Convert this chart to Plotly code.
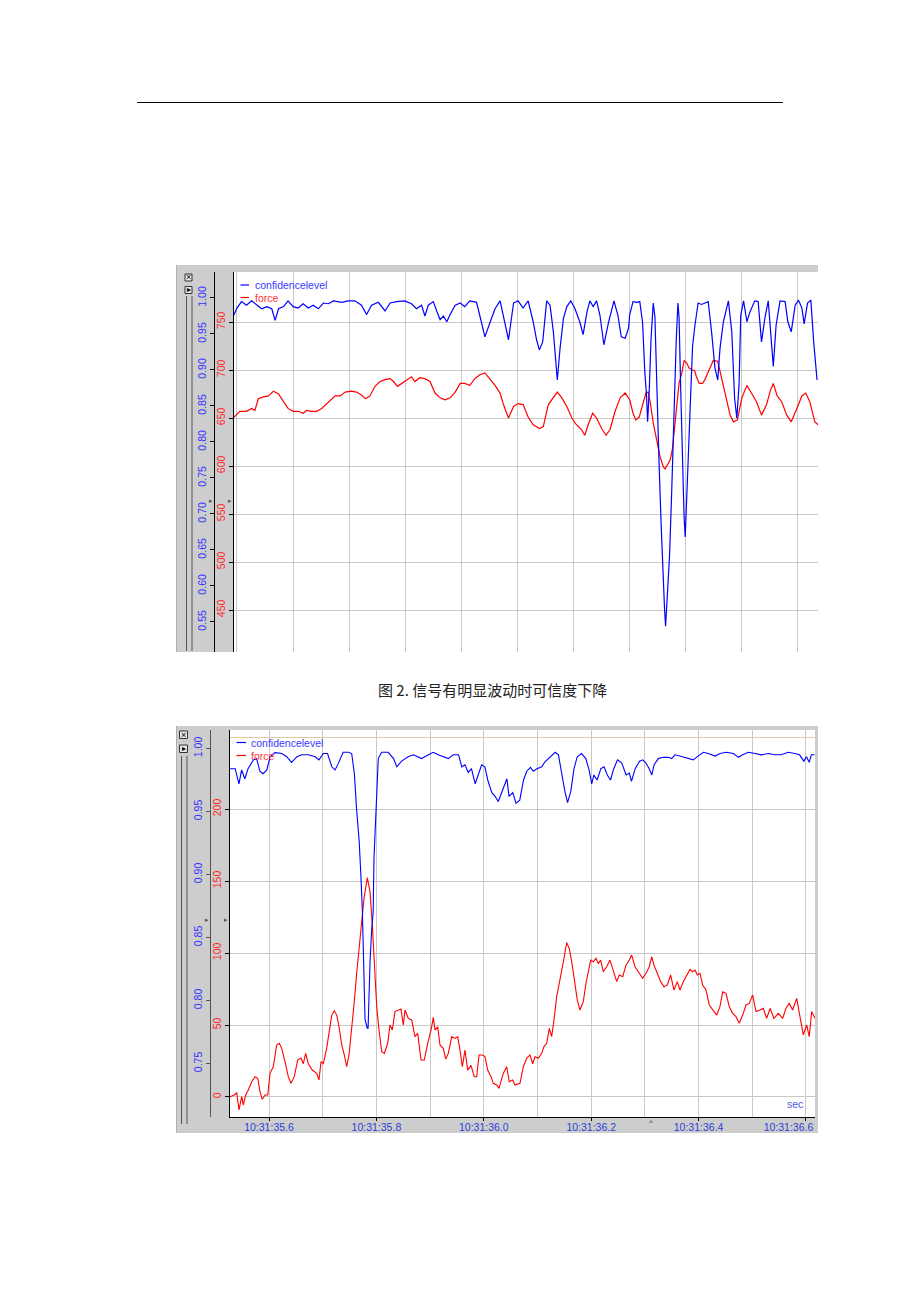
import plotly.graph_objects as go

# ---------------- data ----------------
# Chart 1 (upper screenshot): x in grid units (one vertical grid line per unit)
c1_conf_x = [-0.07, 0.00, 0.08, 0.17, 0.26, 0.35, 0.44, 0.53, 0.62, 0.68, 0.74, 0.83, 0.91, 1.00, 1.09, 1.18,
             1.27, 1.36, 1.45, 1.54, 1.63, 1.72, 1.87, 1.98, 2.10, 2.22, 2.31, 2.40, 2.52, 2.64, 2.73, 2.85,
             2.99, 3.11, 3.20, 3.29, 3.35, 3.41, 3.50, 3.56, 3.62, 3.68, 3.74, 3.80, 3.89, 3.98, 4.06, 4.15,
             4.27, 4.33, 4.42, 4.51, 4.60, 4.69, 4.75, 4.84, 4.93, 5.01, 5.10, 5.19, 5.28, 5.34, 5.39, 5.45,
             5.52, 5.58, 5.64, 5.71, 5.76, 5.82, 5.88, 5.95, 6.02, 6.11, 6.17, 6.24, 6.29, 6.35, 6.41, 6.47,
             6.54, 6.62, 6.72, 6.79, 6.85, 6.92, 6.98, 7.00, 7.06, 7.13, 7.18, 7.23, 7.27, 7.30, 7.32, 7.35,
             7.38, 7.42, 7.45, 7.48, 7.52, 7.56, 7.59, 7.62, 7.64, 7.67, 7.71, 7.75, 7.79, 7.83, 7.86, 7.88,
             7.91, 7.94, 7.97, 7.99, 8.02, 8.05, 8.09, 8.12, 8.16, 8.19, 8.22, 8.28, 8.34, 8.40, 8.46, 8.52,
             8.57, 8.61, 8.67, 8.76, 8.82, 8.87, 8.91, 8.95, 8.98, 9.03, 9.09, 9.14, 9.23, 9.29, 9.35, 9.41,
             9.47, 9.51, 9.56, 9.61, 9.68, 9.77, 9.82, 9.88, 9.95, 10.01, 10.07, 10.11, 10.17, 10.23, 10.28, 10.34]
c1_conf = [0.974, 0.986, 0.995, 0.990, 0.996, 0.990, 0.985, 0.988, 0.985, 0.969, 0.985, 0.988, 0.996, 0.988, 0.986, 0.992,
           0.986, 0.990, 0.985, 0.993, 0.992, 0.996, 0.994, 0.996, 0.996, 0.990, 0.977, 0.990, 0.994, 0.982, 0.993, 0.995,
           0.996, 0.992, 0.985, 0.990, 0.975, 0.990, 0.995, 0.982, 0.970, 0.975, 0.967, 0.977, 0.990, 0.993, 0.988, 0.996,
           0.994, 0.975, 0.946, 0.966, 0.985, 0.996, 0.976, 0.942, 0.993, 0.996, 0.986, 0.996, 0.967, 0.942, 0.928, 0.939,
           0.996, 0.990, 0.953, 0.886, 0.931, 0.972, 0.988, 0.996, 0.986, 0.967, 0.949, 0.981, 0.996, 0.988, 0.996, 0.976,
           0.935, 0.965, 0.996, 0.976, 0.946, 0.944, 0.958, 0.977, 0.995, 0.994, 0.995, 0.966, 0.897, 0.865, 0.828, 0.874,
           0.942, 0.993, 0.974, 0.872, 0.780, 0.687, 0.617, 0.571, 0.544, 0.581, 0.641, 0.733, 0.849, 0.942, 0.993, 0.974,
           0.872, 0.780, 0.696, 0.668, 0.733, 0.803, 0.872, 0.932, 0.960, 0.974, 0.993, 0.991, 0.993, 0.995, 0.953, 0.903,
           0.886, 0.930, 0.967, 0.996, 0.953, 0.861, 0.833, 0.880, 0.976, 0.996, 0.967, 0.980, 0.996, 0.995, 0.939, 0.972,
           0.996, 0.953, 0.905, 0.962, 0.996, 0.995, 0.967, 0.953, 0.990, 0.997, 0.986, 0.964, 0.993, 0.997, 0.939, 0.886]

c1_force_x = [-0.07, 0.05, 0.17, 0.26, 0.32, 0.38, 0.47, 0.56, 0.65, 0.74, 0.83, 0.91, 1.00, 1.09, 1.18, 1.24,
              1.33, 1.42, 1.51, 1.60, 1.69, 1.75, 1.84, 1.93, 2.04, 2.13, 2.22, 2.29, 2.37, 2.46, 2.55, 2.64,
              2.73, 2.79, 2.86, 2.93, 3.02, 3.11, 3.17, 3.26, 3.35, 3.44, 3.53, 3.62, 3.71, 3.80, 3.89, 3.98,
              4.06, 4.15, 4.24, 4.33, 4.42, 4.51, 4.60, 4.69, 4.75, 4.84, 4.93, 5.01, 5.10, 5.19, 5.28, 5.39,
              5.46, 5.55, 5.64, 5.71, 5.79, 5.88, 5.97, 6.05, 6.14, 6.20, 6.26, 6.34, 6.41, 6.50, 6.58, 6.65,
              6.74, 6.83, 6.92, 7.00, 7.06, 7.11, 7.17, 7.23, 7.29, 7.33, 7.37, 7.42, 7.48, 7.54, 7.60, 7.63,
              7.67, 7.72, 7.76, 7.80, 7.84, 7.88, 7.93, 7.97, 8.02, 8.06, 8.12, 8.16, 8.19, 8.24, 8.30, 8.34,
              8.40, 8.49, 8.57, 8.64, 8.72, 8.79, 8.85, 8.92, 9.00, 9.09, 9.17, 9.26, 9.35, 9.44, 9.51, 9.56,
              9.63, 9.71, 9.80, 9.88, 9.98, 10.07, 10.14, 10.21, 10.30, 10.36]
c1_force = [650, 657, 657, 660, 658, 670, 672, 673, 678, 675, 667, 660, 657, 657, 655, 658,
            657, 657, 660, 665, 669, 673, 673, 677, 678, 677, 674, 670, 673, 683, 688, 690,
            691, 688, 683, 686, 690, 693, 688, 692, 691, 688, 676, 671, 669, 671, 677, 686,
            686, 684, 691, 695, 697, 691, 684, 676, 664, 650, 662, 665, 664, 651, 643, 639,
            641, 664, 672, 677, 671, 662, 650, 643, 638, 632, 643, 655, 650, 639, 632, 638,
            657, 671, 676, 669, 655, 648, 651, 664, 676, 677, 665, 645, 627, 610, 599, 597,
            601, 606, 617, 638, 665, 686, 697, 710, 707, 702, 700, 699, 693, 686, 686, 690,
            698, 710, 709, 691, 671, 653, 646, 648, 671, 684, 676, 667, 653, 664, 679, 686,
            673, 667, 653, 646, 660, 673, 676, 667, 646, 643]

# Chart 2 (lower screenshot): x = seconds within 10:31
c2_conf_t = [35.527, 35.537, 35.544, 35.549, 35.555, 35.561, 35.571, 35.577, 35.583, 35.589, 35.596, 35.602,
             35.611, 35.624, 35.633, 35.642, 35.652, 35.661, 35.673, 35.686, 35.693, 35.701, 35.709, 35.717,
             35.723, 35.729, 35.738, 35.748, 35.754, 35.759, 35.763, 35.768, 35.771, 35.7738, 35.7788, 35.7830,
             35.7845, 35.7860, 35.7881, 35.7912, 35.7940, 35.7955, 35.7993, 35.8035, 35.8099, 35.822, 35.832,
             35.838, 35.847, 35.859, 35.869, 35.878, 35.884, 35.897, 35.906, 35.915, 35.925, 35.934, 35.943,
             35.953, 35.959, 35.965, 35.971, 35.977, 35.984, 35.990, 35.996, 36.002, 36.008, 36.015, 36.021,
             36.027, 36.036, 36.043, 36.047, 36.054, 36.060, 36.067, 36.074, 36.080, 36.087, 36.092, 36.099,
             36.108, 36.114, 36.123, 36.133, 36.139, 36.145, 36.151, 36.156, 36.162, 36.168, 36.174, 36.182,
             36.190, 36.196, 36.201, 36.205, 36.211, 36.218, 36.224, 36.230, 36.236, 36.242, 36.249, 36.257,
             36.265, 36.271, 36.275, 36.282, 36.290, 36.296, 36.302, 36.308, 36.313, 36.317, 36.325, 36.334,
             36.344, 36.350, 36.356, 36.365, 36.375, 36.384, 36.390, 36.399, 36.409, 36.418, 36.431, 36.440,
             36.452, 36.465, 36.474, 36.482, 36.493, 36.505, 36.517, 36.530, 36.542, 36.554, 36.567, 36.579,
             36.588, 36.596, 36.601, 36.606, 36.610, 36.616]
c2_conf = [0.984, 0.984, 0.972, 0.983, 0.976, 0.984, 0.991, 0.992, 0.982, 0.980, 0.983, 0.9935,
           0.9967, 0.996, 0.9935, 0.989, 0.9935, 0.995, 0.995, 0.9935, 0.991, 0.996, 0.996, 0.9855,
           0.983, 0.988, 0.997, 0.997, 0.996, 0.980, 0.9525, 0.926, 0.900, 0.872, 0.785, 0.778,
           0.778, 0.803, 0.830, 0.856, 0.870, 0.913, 0.958, 0.992, 0.997, 0.997, 0.992,
           0.9855, 0.990, 0.9935, 0.995, 0.9935, 0.992, 0.995, 0.997, 0.995, 0.9935, 0.992, 0.995,
           0.995, 0.9855, 0.987, 0.981, 0.984, 0.972, 0.979, 0.987, 0.9855, 0.974, 0.965, 0.962,
           0.958, 0.968, 0.976, 0.962, 0.965, 0.9565, 0.959, 0.975, 0.982, 0.985, 0.982, 0.984,
           0.9855, 0.9895, 0.993, 0.997, 0.995, 0.980, 0.966, 0.957, 0.966, 0.984, 0.9935, 0.996,
           0.992, 0.983, 0.972, 0.979, 0.975, 0.984, 0.9855, 0.979, 0.975, 0.984, 0.991, 0.9885,
           0.979, 0.9805, 0.974, 0.984, 0.990, 0.991, 0.9885, 0.984, 0.979, 0.987, 0.992, 0.993,
           0.993, 0.992, 0.995, 0.994, 0.993, 0.992, 0.991, 0.994, 0.997, 0.996, 0.994, 0.996,
           0.997, 0.996, 0.993, 0.995, 0.997, 0.996, 0.995, 0.996, 0.995, 0.995, 0.997, 0.996,
           0.995, 0.990, 0.9935, 0.989, 0.995, 0.995]

c2_force_t = [35.5274, 35.5354, 35.5399, 35.5441, 35.5492, 35.5521, 35.5566, 35.5615, 35.5678, 35.5739, 35.5790,
              35.5832, 35.5875, 35.5926, 35.5976, 35.6019, 35.6080, 35.6143, 35.6192, 35.6236, 35.6298, 35.6359,
              35.6410, 35.6471, 35.6534, 35.6596, 35.6639, 35.6683, 35.6732, 35.6806, 35.6888, 35.6931, 35.6968,
              35.7011, 35.7074, 35.7117, 35.7168, 35.7216, 35.7261, 35.7304, 35.7354, 35.7402, 35.7447, 35.7490,
              35.7540, 35.7588, 35.7633, 35.7676, 35.7726, 35.7769, 35.7831, 35.7881, 35.7924, 35.7961, 35.8006,
              35.8048, 35.8099, 35.8147, 35.8210, 35.8253, 35.8296, 35.8346, 35.8408, 35.8458, 35.8501, 35.8533,
              35.8594, 35.8657, 35.8719, 35.8769, 35.8831, 35.8892, 35.8955, 35.9017, 35.9060, 35.9091, 35.9142,
              35.9184, 35.9246, 35.9291, 35.9339, 35.9402, 35.9464, 35.9514, 35.9557, 35.9600, 35.9650, 35.9700,
              35.9762, 35.9823, 35.9868, 35.9911, 35.9972, 36.0022, 36.0073, 36.0134, 36.0177, 36.0240, 36.0283,
              36.0363, 36.0426, 36.0475, 36.0538, 36.0581, 36.0674, 36.0736, 36.0799, 36.0860, 36.0911, 36.0953,
              36.1015, 36.1078, 36.1121, 36.1171, 36.1220, 36.1264, 36.1307, 36.1357, 36.1406, 36.1451, 36.1493,
              36.1544, 36.1592, 36.1637, 36.1680, 36.1741, 36.1791, 36.1853, 36.1903, 36.1946, 36.1991, 36.2039,
              36.2089, 36.2132, 36.2177, 36.2225, 36.2289, 36.2350, 36.2412, 36.2475, 36.2523, 36.2587, 36.2648,
              36.2710, 36.2754, 36.2816, 36.2896, 36.2959, 36.3020, 36.3082, 36.3127, 36.3169, 36.3231, 36.3294,
              36.3356, 36.3417, 36.3480, 36.3542, 36.3603, 36.3654, 36.3715, 36.3778, 36.3840, 36.3890, 36.3933,
              36.3976, 36.4026, 36.4076, 36.4138, 36.4199, 36.4274, 36.4337, 36.4398, 36.4449, 36.4510, 36.4572,
              36.4635, 36.4696, 36.4758, 36.4821, 36.4883, 36.4944, 36.5007, 36.5069, 36.5143, 36.5205, 36.5268,
              36.5330, 36.5404, 36.5484, 36.5566, 36.5628, 36.5689, 36.5752, 36.5827, 36.5888, 36.5950, 36.6013,
              36.6061, 36.6106, 36.6168]
c2_force = [0.2, 1.4, 3.0, -9.0, 0.2, -5.6, 1.4, 4.9, 10.6, 14.1, 13.0,
            3.7, -1.6, 1.4, 1.4, 16.4, 21.0, 36.1, 37.3, 33.8, 24.5, 14.1,
            9.5, 14.1, 25.7, 27.0, 23.1, 30.3, 23.1, 18.7, 16.4, 11.8, 24.5,
            23.1, 33.8, 44.2, 56.9, 59.9, 56.9, 48.8, 36.1, 29.2, 21.0, 29.2,
            46.5, 66.2, 85.9, 103.2, 119.4, 138.0, 152.3, 142.6, 119.4, 92.8, 62.7,
            46.5, 31.5, 30.3, 37.3, 50.0, 46.5, 59.3, 60.4, 61.1, 50.0, 60.4,
            54.6, 53.5, 41.9, 44.2, 25.7, 25.7, 37.3, 46.5, 55.3, 46.5, 48.8,
            36.1, 33.8, 26.3, 30.3, 41.9, 40.7, 41.9, 32.6, 21.0, 32.6, 18.7,
            22.0, 14.1, 14.1, 29.2, 29.2, 28.1, 18.7, 14.1, 9.5, 8.3, 6.0,
            16.4, 21.0, 10.6, 11.8, 8.3, 9.5, 21.0, 26.9, 29.2, 23.1, 27.9,
            26.9, 30.3, 35.0, 37.3, 47.7, 42.0, 53.5, 69.7, 79.0, 89.4, 96.3,
            107.2, 103.2, 94.0, 81.3, 67.4, 60.4, 66.2, 79.0, 85.9, 95.1, 93.9,
            96.3, 92.8, 95.1, 87.0, 90.5, 95.1, 88.2, 80.1, 84.7, 83.6, 91.6,
            95.1, 98.6, 90.5, 85.9, 82.4, 85.9, 90.5, 97.4, 91.6, 85.9, 80.1,
            76.6, 77.8, 84.7, 74.3, 80.1, 74.3, 80.1, 84.7, 88.6, 87.0, 88.2,
            84.7, 85.9, 77.8, 74.3, 63.9, 60.4, 56.9, 62.7, 73.1, 72.0, 62.7,
            58.1, 55.8, 51.2, 56.9, 63.9, 65.0, 70.8, 59.3, 60.4, 61.6, 54.6,
            61.6, 54.6, 58.1, 54.6, 61.6, 65.0, 60.4, 68.5, 54.6, 43.1, 50.0,
            41.9, 59.3, 54.6]

c1_force_ticks = [450, 500, 550, 600, 650, 700, 750]
c1_conf_ticks = [0.55, 0.60, 0.65, 0.70, 0.75, 0.80, 0.85, 0.90, 0.95, 1.00]
c2_force_ticks = [0, 50, 100, 150, 200]
c2_conf_ticks = [0.75, 0.80, 0.85, 0.90, 0.95, 1.00]
c2_time_ticks = [35.6, 35.8, 36.0, 36.2, 36.4, 36.6]
c2_time_text = ["10:31:35.6", "10:31:35.8", "10:31:36.0", "10:31:36.2", "10:31:36.4",
                "10:31:36.6" + "\u00a0" * 12]
c2_time_minor = [35.7, 35.9, 36.1, 36.3, 36.5]

caption = "图 2. 信号有明显波动时可信度下降"

# ---------------- layout helpers ----------------
W, H = 920, 1302
def fx(px):
    return px / W
def fy(py):
    return 1 - py / H

GRID = "#c8c8c8"
PANEL = "#cdcdcd"
BLUE = "#0000ff"
RED = "#ff0000"
BLUE_TXT = "#3333ff"
RED_TXT = "#ff2a2a"
FONT = "Liberation Sans, Arial, sans-serif"

fig = go.Figure()
fig.add_trace(go.Scatter(x=c1_force_x, y=c1_force, xaxis="x", yaxis="y", mode="lines",
                         line=dict(color=RED, width=1.2), name="force", showlegend=False))
fig.add_trace(go.Scatter(x=c1_conf_x, y=c1_conf, xaxis="x", yaxis="y2", mode="lines",
                         line=dict(color=BLUE, width=1.2), name="confidencelevel", showlegend=False))
fig.add_trace(go.Scatter(x=c2_force_t, y=c2_force, xaxis="x2", yaxis="y3", mode="lines",
                         line=dict(color=RED, width=1.1), name="force", showlegend=False))
fig.add_trace(go.Scatter(x=c2_conf_t, y=c2_conf, xaxis="x2", yaxis="y4", mode="lines",
                         line=dict(color=BLUE, width=1.1), name="confidencelevel", showlegend=False))

def yax(color, ticks, pos, rng, fmt=None, grid=False, linecolor="black", **kw):
    d = dict(anchor="free", position=fx(pos), side="left", range=rng, tickmode="array", tickvals=ticks,
             showgrid=grid, gridcolor=GRID, gridwidth=1, zeroline=False, showline=True,
             linecolor=linecolor, linewidth=1, ticks="outside", ticklen=4, tickcolor=linecolor,
             tickangle=-90, tickfont=dict(color=color, size=10.5, family=FONT), fixedrange=True,
             automargin=False)
    if fmt:
        d["tickformat"] = fmt
    d.update(kw)
    return d

fig.update_layout(
    template="none",
    width=W, height=H, margin=dict(l=0, r=0, t=0, b=0, pad=0, autoexpand=False),
    paper_bgcolor="white", plot_bgcolor="white", showlegend=False,
    xaxis=dict(domain=[fx(233), fx(818)], range=[-0.071, 10.357], anchor="y", showticklabels=False,
               ticks="", showgrid=True, gridcolor=GRID, dtick=1, tick0=0, zeroline=False,
               showline=False, fixedrange=True, automargin=False),
    yaxis=yax(RED_TXT, c1_force_ticks, 233, [406.25, 802.1], grid=True,
              domain=[fy(652), fy(272)]),
    yaxis2=yax(BLUE_TXT, c1_conf_ticks, 214, [0.5083, 1.0361], fmt=".2f", overlaying="y"),
    xaxis2=dict(domain=[fx(229), fx(815)], range=[35.5255, 36.6168], anchor="y3",
                tickmode="array", tickvals=c2_time_ticks, ticktext=c2_time_text,
                showgrid=True, gridcolor=GRID, zeroline=False, showline=True, linecolor="black",
                ticks="outside", ticklen=3, tickcolor="black", ticklabelstandoff=-3,
                tickfont=dict(color="#2a3fd6", size=10.5, family=FONT),
                minor=dict(tickvals=c2_time_minor, showgrid=True, gridcolor=GRID, ticks=""),
                fixedrange=True, automargin=False),
    yaxis3=yax(RED_TXT, c2_force_ticks, 229, [-13.9, 254.9], grid=True,
               domain=[fy(1117), fy(730)],
               minor=dict(tickvals=[250], showgrid=True, gridcolor="#e0c8a8", ticks="")),
    yaxis4=yax(BLUE_TXT, c2_conf_ticks, 210, [0.70754, 1.0147], fmt=".2f", overlaying="y3",
               linecolor="#555555"),
)

shapes = []
def rect(x0, y0, x1, y1, fill, line=None, layer="below"):
    shapes.append(dict(type="rect", xref="paper", yref="paper", x0=fx(x0), x1=fx(x1), y0=fy(y1), y1=fy(y0),
                       fillcolor=fill, line=dict(width=1 if line else 0, color=line or fill), layer=layer))
def hline(x0, x1, y, color, width=1, layer="above"):
    shapes.append(dict(type="line", xref="paper", yref="paper", x0=fx(x0), x1=fx(x1), y0=fy(y), y1=fy(y),
                       line=dict(color=color, width=width), layer=layer))
def vline(x, y0, y1, color, width=1, layer="above"):
    shapes.append(dict(type="line", xref="paper", yref="paper", x0=fx(x), x1=fx(x), y0=fy(y0), y1=fy(y1),
                       line=dict(color=color, width=width), layer=layer))

# page rule
hline(137, 783, 102.5, "black", 1)

# chart 1 frame
rect(176, 265, 233, 652, PANEL)
rect(176, 265, 818, 272, PANEL)
vline(176.5, 265, 652, "#b0b0b0")
vline(186.5, 296, 651, "#555555")
vline(192, 296, 651, "#555555")
rect(185, 274, 192, 281, "#e6e6e6", "#333333", layer="above")
rect(185, 286.5, 192, 293.5, "#e6e6e6", "#333333", layer="above")

# chart 2 frame
rect(176, 726, 229, 1133, PANEL)
rect(176, 726, 818, 730, PANEL)
rect(176, 1117, 818, 1133, PANEL)
rect(815, 726, 818, 1133, PANEL)
vline(176.5, 726, 1133, "#b0b0b0")
vline(181.5, 756, 1124, "#555555")
vline(187, 756, 1124, "#555555")
rect(179.5, 731, 187.5, 738.5, "#e6e6e6", "#333333", layer="above")
rect(179.5, 745, 187.5, 752.5, "#e6e6e6", "#333333", layer="above")

# legend swatches
hline(240.5, 249, 285, BLUE, 1.2)
hline(240.5, 249, 297.5, RED, 1.2)
hline(236.5, 246, 742.5, BLUE, 1.2)
hline(236.5, 246, 755.5, RED, 1.2)

fig.update_layout(shapes=shapes)

ann = []
def text(x, y, s, color, size=10.5, family=FONT, xanchor="left", **kw):
    ann.append(dict(x=fx(x), y=fy(y), xref="paper", yref="paper", text=s, showarrow=False,
                    xanchor=xanchor, yanchor="middle", font=dict(color=color, size=size, family=family),
                    **kw))

text(253, 285, "confidencelevel", "#3a3aff")
text(253, 297.5, "force", "#ff3333")
text(249, 742.5, "confidencelevel", "#3a3aff")
text(249, 755.5, "force", "#ff3333")
text(805, 1104, "sec", "#4a5ae0", xanchor="right")
text(493, 689, caption, "#222222", size=15, family="Noto Sans CJK SC", xanchor="center")
# buttons
text(188.5, 277.5, "×", "black", size=9, xanchor="center")
text(188.5, 290, "▸", "black", size=8, xanchor="center")
text(183.5, 734.8, "×", "black", size=9, xanchor="center")
text(183.5, 748.8, "▸", "black", size=8, xanchor="center")
# small axis markers
text(211, 501, "▸", "#555555", size=7, xanchor="center")
text(230, 501, "▸", "#555555", size=7, xanchor="center")
text(207, 919, "▸", "#555555", size=7, xanchor="center")
text(226, 919, "▸", "#555555", size=7, xanchor="center")
text(651, 1121, "▲", "#888888", size=6, xanchor="center")

fig.update_layout(annotations=ann)

fig.write_html("out.html", config={"responsive": False, "displayModeBar": False})
